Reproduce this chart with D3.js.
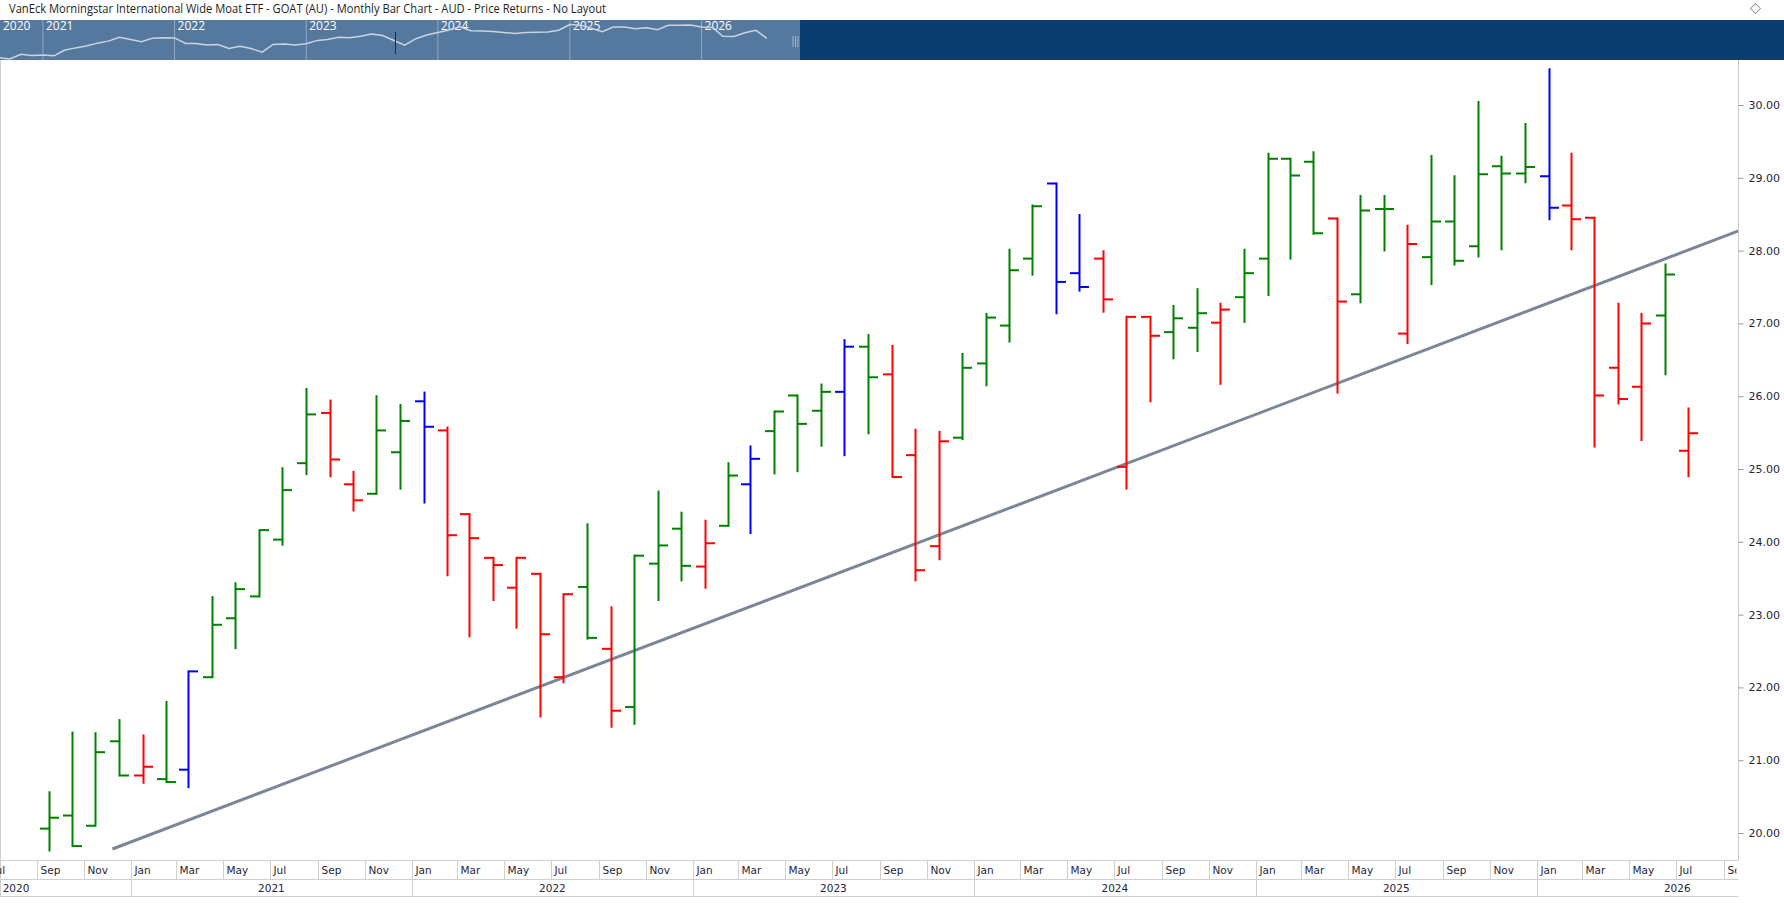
<!DOCTYPE html>
<html lang="en">
<head>
<meta charset="UTF-8">
<title>GOAT Monthly Bar Chart</title>
<script src="https://d3js.org/d3.v7.min.js"></script>
<style>
  body { margin: 0; background: #fff; }
  svg { display: block; }
  .title { font-family: "Open Sans", sans-serif; font-size: 12px; fill: #1e1e1e; }
  .nav-year { font-family: "Liberation Sans Narrow", "Open Sans", sans-serif; font-size: 12px; fill: #fff; }
  .y-label { font-family: "DejaVu Sans", Verdana, sans-serif; font-size: 11px; fill: #26263a; }
  .x-label { font-family: "DejaVu Sans", Verdana, sans-serif; font-size: 10.5px; fill: #26263a; }
</style>
</head>
<body>
<svg id="chart" width="1784" height="903"></svg>
<script>
// monthly bars, Sep 2020 .. Jul 2026
const months = [
  '2020-09','2020-10','2020-11','2020-12',
  '2021-01','2021-02','2021-03','2021-04','2021-05','2021-06','2021-07','2021-08','2021-09','2021-10','2021-11','2021-12',
  '2022-01','2022-02','2022-03','2022-04','2022-05','2022-06','2022-07','2022-08','2022-09','2022-10','2022-11','2022-12',
  '2023-01','2023-02','2023-03','2023-04','2023-05','2023-06','2023-07','2023-08','2023-09','2023-10','2023-11','2023-12',
  '2024-01','2024-02','2024-03','2024-04','2024-05','2024-06','2024-07','2024-08','2024-09','2024-10','2024-11','2024-12',
  '2025-01','2025-02','2025-03','2025-04','2025-05','2025-06','2025-07','2025-08','2025-09','2025-10','2025-11','2025-12',
  '2026-01','2026-02','2026-03','2026-04','2026-05','2026-06','2026-07'
];
const opens = [
  20.06, 20.24, 20.10, 21.26,
  20.79, 20.74, 20.87, 22.14, 22.95, 23.25, 24.03, 25.08, 25.77, 24.79, 24.66, 25.23,
  25.93, 25.53, 24.38, 23.78, 23.37, 23.56, 22.14, 23.38, 22.53, 21.73, 23.70, 24.18,
  23.66, 24.22, 24.79, 25.52, 26.01, 25.80, 26.06, 26.68, 26.30, 25.19, 23.94, 25.43,
  26.45, 26.97, 27.89, 28.92, 27.69, 27.89, 25.03, 27.09, 26.88, 26.94, 27.01, 27.36,
  27.89, 29.26, 29.22, 28.44, 27.40, 28.57, 26.86, 27.91, 28.40, 28.06, 29.16, 29.06,
  29.02, 28.62, 28.45, 26.39, 26.13, 27.11, 25.25
];
const highs = [
  20.56, 21.38, 21.37, 21.55,
  21.34, 21.80, 22.22, 23.24, 23.43, 24.16, 25.01, 26.10, 25.94, 24.96, 26.00, 25.88,
  26.05, 25.57, 24.38, 23.78, 23.78, 23.56, 23.28, 24.24, 23.10, 23.81, 24.69, 24.40,
  24.29, 25.08, 25.31, 25.79, 26.01, 26.16, 26.77, 26.84, 26.69, 25.54, 25.51, 26.58,
  27.13, 28.01, 28.62, 28.92, 28.49, 27.99, 27.09, 27.09, 27.24, 27.47, 27.27, 28.01,
  29.33, 29.26, 29.35, 28.44, 28.75, 28.75, 28.34, 29.30, 29.02, 30.04, 29.29, 29.74,
  30.49, 29.33, 28.45, 27.27, 27.13, 27.81, 25.83
];
const lows = [
  19.76, 19.82, 20.10, 20.79,
  20.69, 20.70, 20.63, 22.14, 22.54, 23.25, 23.96, 24.93, 24.90, 24.43, 24.66, 24.73,
  24.54, 23.54, 22.70, 23.20, 22.82, 21.60, 22.07, 22.67, 21.46, 21.50, 23.20, 23.47,
  23.37, 24.22, 24.12, 24.94, 24.97, 25.32, 25.19, 25.49, 24.89, 23.47, 23.76, 25.41,
  26.15, 26.75, 27.67, 27.14, 27.45, 27.16, 24.73, 25.93, 26.52, 26.62, 26.17, 27.02,
  27.39, 27.89, 28.23, 26.05, 27.29, 28.00, 26.73, 27.54, 27.81, 27.92, 28.02, 28.94,
  28.43, 28.02, 25.31, 25.90, 25.40, 26.30, 24.90
];
const closes = [
  20.21, 19.82, 21.11, 20.79,
  20.91, 20.70, 22.22, 22.86, 23.35, 24.16, 24.71, 25.75, 25.13, 24.57, 25.53, 25.66,
  25.58, 24.09, 24.05, 23.68, 23.78, 22.73, 23.28, 22.68, 21.68, 23.81, 23.95, 23.67,
  23.98, 24.91, 25.14, 25.79, 25.62, 26.06, 26.68, 26.26, 24.89, 23.61, 25.38, 26.39,
  27.08, 27.73, 28.61, 27.57, 27.50, 27.33, 27.09, 26.83, 27.07, 27.14, 27.19, 27.69,
  29.26, 29.03, 28.24, 27.30, 28.55, 28.57, 28.09, 28.40, 27.86, 29.05, 29.06, 29.15,
  28.59, 28.43, 26.01, 25.96, 27.00, 27.67, 25.49
];
// bar colouring signal: u = up, d = down, n = neutral
const signals = [
  'u','u','u','u',
  'd','u','n','u','u','u','u','u','d','d','u','u',
  'n','d','d','d','d','d','d','u','d','u','u','u',
  'd','u','n','u','u','u','n','u','d','d','d','u',
  'u','u','u','n','n','d','d','d','u','u','d','u',
  'u','u','u','d','u','u','d','u','u','u','u','u',
  'n','d','d','d','d','u','d'
];
// trend line anchors
const trendDates = ['2020-12-08', '2026-09-20'];
const trendPrices = [19.78, 28.27];

const yTicks = [20, 21, 22, 23, 24, 25, 26, 27, 28, 29, 30];
const navYears = [2020, 2021, 2022, 2023, 2024, 2025, 2026];
const monthNames = ['Jan','Feb','Mar','Apr','May','Jun','Jul','Aug','Sep','Oct','Nov','Dec'];
const chartTitle = 'VanEck Morningstar International Wide Moat ETF - GOAT (AU) - Monthly Bar Chart - AUD - Price Returns - No Layout';

const signalColor = { u: '#008000', d: '#ff0000', n: '#0000ff' };

const W = 1784, H = 903;
const plot = { left: 0, right: 1738.5, top: 60, bottom: 860 };
const parseMonth = d3.utcParse('%Y-%m');
const parseDay = d3.utcParse('%Y-%m-%d');

const bars = months.map((m, i) => ({
  date: parseMonth(m),
  open: opens[i], high: highs[i], low: lows[i], close: closes[i],
  sig: signals[i]
}));

const svg = d3.select('#chart');

// title strip
svg.append('text').attr('class', 'title')
  .attr('x', 9).attr('y', 13)
  .attr('textLength', 597).attr('lengthAdjust', 'spacingAndGlyphs')
  .text(chartTitle);
svg.append('rect')
  .attr('x', 1752).attr('y', 5).attr('width', 7).attr('height', 7)
  .attr('transform', 'rotate(45 1755.5 8.5)')
  .attr('fill', 'none').attr('stroke', '#999').attr('stroke-width', 1);

// navigator
const nav = { left: 0, right: 800, top: 20, bottom: 60 };
svg.append('rect').attr('x', 0).attr('y', nav.top).attr('width', W).attr('height', nav.bottom - nav.top)
  .attr('fill', '#0b3d6f');
svg.append('rect').attr('x', nav.left).attr('y', nav.top).attr('width', nav.right - nav.left).attr('height', nav.bottom - nav.top)
  .attr('fill', '#55799e');

const xNav = d3.scaleUtc()
  .domain([Date.UTC(2020, 8, 4), Date.UTC(2026, 9, 1)])
  .range([nav.left, nav.right]);
const yNav = d3.scaleLinear()
  .domain(d3.extent(closes))
  .range([59, 24.5]);

navYears.forEach(yr => {
  const xs = xNav(Date.UTC(yr, 0, 1));
  if (xs > 0) {
    svg.append('line')
      .attr('x1', xs).attr('x2', xs).attr('y1', nav.top).attr('y2', nav.bottom)
      .attr('stroke', 'rgba(255,255,255,0.35)').attr('stroke-width', 1);
  }
  svg.append('text').attr('class', 'nav-year')
    .attr('x', Math.max(xs + 3, 3)).attr('y', 30)
    .text(yr);
});

svg.append('path')
  .datum(bars)
  .attr('fill', 'none')
  .attr('stroke', '#c9d4e0')
  .attr('stroke-width', 1.5)
  .attr('d', d3.line().x(d => xNav(d.date)).y(d => yNav(d.close)));

// cursor mark and handle in the navigator
svg.append('line').attr('x1', 395.5).attr('x2', 395.5).attr('y1', 32).attr('y2', 54)
  .attr('stroke', '#1d2a38').attr('stroke-width', 1);
[793, 795.5, 798].forEach(hx => {
  svg.append('line').attr('x1', hx).attr('x2', hx).attr('y1', 36).attr('y2', 47)
    .attr('stroke', '#a9b6c4').attr('stroke-width', 1);
});

// main scales
const x = d3.scaleUtc()
  .domain([Date.UTC(2020, 6, 15), Date.UTC(2026, 8, 20)])
  .range([plot.left, plot.right]);
const y = d3.scaleLinear()
  .domain([20, 30])
  .range([833, 105]);

svg.append('clipPath').attr('id', 'plot-clip')
  .append('rect').attr('x', plot.left).attr('y', plot.top)
  .attr('width', plot.right - plot.left).attr('height', plot.bottom - plot.top);

// left border
svg.append('line').attr('x1', 0.5).attr('x2', 0.5).attr('y1', plot.top).attr('y2', 896)
  .attr('stroke', '#cfcfcf');

// trend line
svg.append('line')
  .attr('clip-path', 'url(#plot-clip)')
  .attr('x1', x(parseDay(trendDates[0]))).attr('y1', y(trendPrices[0]))
  .attr('x2', x(parseDay(trendDates[1]))).attr('y2', y(trendPrices[1]))
  .attr('stroke', '#7b8796').attr('stroke-width', 3);

// OHLC bars
const tick = 9.5;
const barX = d => Math.round((x(d.date) + x(d3.utcMonth.offset(d.date, 1))) / 2) + 0.5;
const gBars = svg.append('g').attr('clip-path', 'url(#plot-clip)');
const bar = gBars.selectAll('g.bar').data(bars).enter().append('g')
  .attr('class', 'bar')
  .attr('stroke', d => signalColor[d.sig])
  .attr('stroke-width', 2);
bar.append('line')
  .attr('x1', barX).attr('x2', barX)
  .attr('y1', d => y(d.high) - 1).attr('y2', d => y(d.low) + 1);
bar.append('line')
  .attr('x1', d => barX(d) - tick).attr('x2', barX)
  .attr('y1', d => y(d.open)).attr('y2', d => y(d.open));
bar.append('line')
  .attr('x1', barX).attr('x2', d => barX(d) + tick)
  .attr('y1', d => y(d.close)).attr('y2', d => y(d.close));

// right price axis
svg.append('line').attr('x1', plot.right).attr('x2', plot.right).attr('y1', plot.top).attr('y2', plot.bottom)
  .attr('stroke', '#c8c8c8').attr('stroke-width', 1);
const yAxis = d3.axisRight(y).tickValues(yTicks).tickFormat(d3.format('.2f')).tickSize(5).tickPadding(5);
const gY = svg.append('g').attr('transform', `translate(${plot.right},0)`).call(yAxis);
gY.select('.domain').remove();
gY.selectAll('.tick line').attr('stroke', '#9a9a9a');
gY.selectAll('.tick text').attr('class', 'y-label').attr('fill', null).attr('font-family', null).attr('font-size', null);

// time axis: month row and year row
const rowTop = 860, rowMid = 879, rowBot = 896;
[rowTop, rowMid, rowBot].forEach(ry => {
  svg.append('line').attr('x1', 0).attr('x2', plot.right).attr('y1', ry + 0.5).attr('y2', ry + 0.5)
    .attr('stroke', '#cfcfcf');
});
svg.append('clipPath').attr('id', 'axis-clip')
  .append('rect').attr('x', 0).attr('y', rowTop).attr('width', plot.right - 2).attr('height', rowBot - rowTop);
const gX = svg.append('g').attr('clip-path', 'url(#axis-clip)');

const labelMonths = d3.utcMonth.range(Date.UTC(2020, 6, 1), Date.UTC(2026, 9, 1))
  .filter(d => d.getUTCMonth() % 2 === 0);
labelMonths.forEach(d => {
  const mx = Math.round(x(d)) + 0.5;
  gX.append('line').attr('x1', mx).attr('x2', mx).attr('y1', rowTop).attr('y2', rowMid)
    .attr('stroke', '#cfcfcf');
  gX.append('text').attr('class', 'x-label')
    .attr('x', mx + 3).attr('y', 874)
    .text(monthNames[d.getUTCMonth()]);
});
navYears.forEach(yr => {
  const x0 = x(Date.UTC(yr, 0, 1)), x1 = x(Date.UTC(yr + 1, 0, 1));
  if (x0 > 0) {
    gX.append('line').attr('x1', Math.round(x0) + 0.5).attr('x2', Math.round(x0) + 0.5)
      .attr('y1', rowMid).attr('y2', rowBot).attr('stroke', '#cfcfcf');
  }
  const cx = (x0 + x1) / 2;
  gX.append('text').attr('class', 'x-label')
    .attr('x', Math.max(cx, 16)).attr('y', 892)
    .attr('text-anchor', 'middle')
    .text(yr);
});
</script>
</body>
</html>
